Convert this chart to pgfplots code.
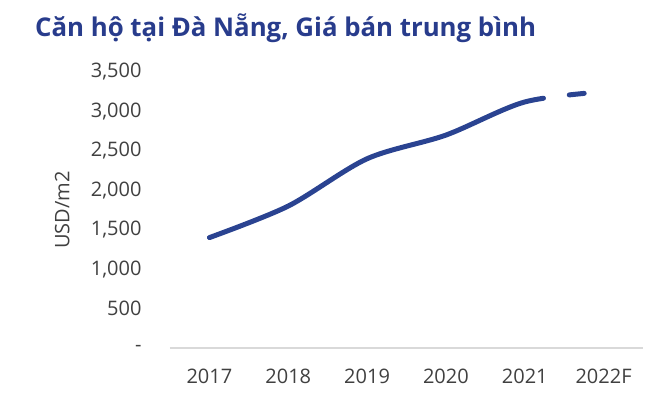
\documentclass[border=0pt]{standalone}
\usepackage{fontspec}
\setmainfont{Open Sans}
\usepackage{pgfplots}
\pgfplotsset{compat=1.18}
\definecolor{titleblue}{RGB}{40,60,140}
\definecolor{lineblue}{RGB}{42,67,145}
\definecolor{tickgray}{RGB}{64,64,64}
\definecolor{axisgray}{RGB}{217,217,217}
\begin{document}
\begin{tikzpicture}
\useasboundingbox (-170bp,-57bp) rectangle (493bp,348bp);
\begin{axis}[
  at={(0,0)}, anchor=south west,
  scale only axis, width=473bp, height=276bp,
  xmin=-0.5, xmax=5.5, ymin=0, ymax=3500,
  axis x line*=bottom, axis y line*=left,
  x axis line style={draw=axisgray, line width=1.5bp, -},
  y axis line style={draw=none},
  major tick length=0pt,
  xtick={0,...,5}, xticklabels={2017,2018,2019,2020,2021,2022F},
  ytick={0,500,...,3500},
  yticklabels={-,500,{1,000},{1,500},{2,000},{2,500},{3,000},{3,500}},
  tick label style={font=\fontsize{20bp}{24bp}\selectfont, text=tickgray},
  /pgf/number format/assume math mode=true,
  xticklabel style={yshift=-17bp},
  yticklabel style={xshift=-25bp},
  ylabel={USD/m2},
  every axis y label/.style={at={(axis description cs:-0.228,0.5)}, rotate=90, anchor=center, font=\fontsize{20bp}{24bp}\selectfont, text=tickgray},
  clip=false,
]
\addplot[lineblue, line width=5bp, smooth, line cap=round,
  dash pattern=on 364bp off 26bp on 15bp off 300bp]
  coordinates {(0,1400)(1,1800)(2,2400)(3,2700)(4,3120)(5,3250)};
\end{axis}
\node[anchor=base west, font=\fontsize{25.8bp}{30bp}\selectfont\bfseries, text=titleblue, inner sep=0pt] at (-135bp,311bp) {Căn hộ tại Đà Nẵng, Giá bán trung bình};
\end{tikzpicture}
\end{document}
